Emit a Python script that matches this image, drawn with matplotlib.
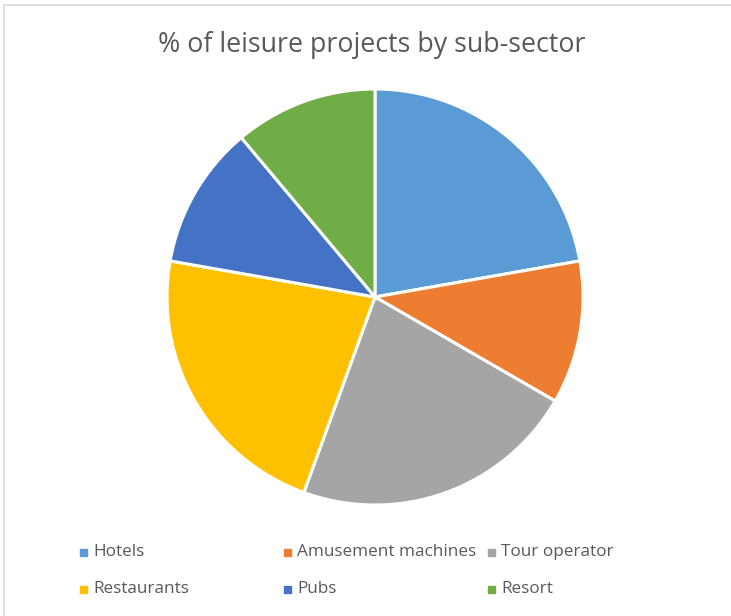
import matplotlib.pyplot as plt
from matplotlib.patches import Rectangle

# data
labels = ["Hotels", "Amusement machines", "Tour operator",
          "Restaurants", "Pubs", "Resort"]
shares = [22.2, 11.1, 22.2, 22.2, 11.1, 11.1]
colors = ["#5B9BD5", "#ED7D31", "#A5A5A5", "#FFC000", "#4472C4", "#70AD47"]

W, H = 731, 616
fig = plt.figure(figsize=(W / 100, H / 100), dpi=100)
plt.rcParams['font.family'] = ['Open Sans', 'DejaVu Sans']

# light chart-area border
fig.patches.append(Rectangle((4 / W, -0.01), 1.0, 1 - 5 / H + 0.01,
                             transform=fig.transFigure, fill=False,
                             edgecolor="#D9D9D9", lw=1.2))

# pie: centre (375, 297) px, radius ~208 px
cx, cy, r = 375, 297, 208
ax = fig.add_axes([(cx - r) / W, (H - cy - r) / H, 2 * r / W, 2 * r / H])
ax.pie(shares, colors=colors, startangle=90, counterclock=False,
       radius=1, wedgeprops=dict(edgecolor="white", linewidth=2.2))
ax.set_xlim(-1, 1)
ax.set_ylim(-1, 1)
ax.set_aspect("equal")
ax.axis("off")

fig.text(372 / W, 1 - 45 / H, "% of leisure projects by sub-sector",
         ha="center", va="center", fontsize=19.3, color="#595959")

# legend, 3 columns x 2 rows
col_x = [80, 284, 488]
row_y = [552, 589]
for i, (lab, c) in enumerate(zip(labels, colors)):
    x = col_x[i % 3]
    y = row_y[i // 3]
    fig.patches.append(Rectangle((x / W, (H - y - 3.5) / H), 7 / W, 7 / H,
                                 transform=fig.transFigure, color=c))
    fig.text((x + 13) / W, 1 - y / H, lab, ha="left", va="center",
             fontsize=12.3, color="#595959")

fig.savefig("out.png", dpi=100)
